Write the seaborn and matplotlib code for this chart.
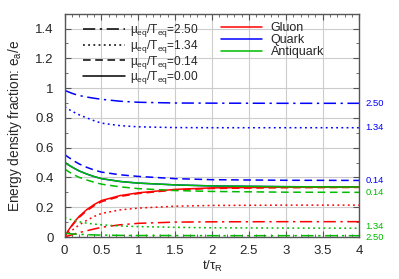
import matplotlib
matplotlib.use("Agg")
import matplotlib.pyplot as plt
from matplotlib.lines import Line2D
from matplotlib.ticker import MultipleLocator
import seaborn as sns
import pandas as pd

# time grid (t / tau_R)
t = [0, 0.05, 0.1, 0.15, 0.2, 0.3, 0.4, 0.5, 0.75, 1, 1.5, 2, 3, 4]

# quark fractions per mu_eq/T_eq
quark_250 = [0.985, 0.975, 0.965, 0.957, 0.950, 0.940, 0.932, 0.925, 0.912, 0.905, 0.900, 0.899, 0.898, 0.898]
quark_134 = [0.874, 0.859, 0.845, 0.832, 0.820, 0.800, 0.781, 0.765, 0.748, 0.740, 0.735, 0.734, 0.734, 0.734]
quark_014 = [0.554, 0.536, 0.520, 0.504, 0.490, 0.468, 0.450, 0.436, 0.418, 0.407, 0.392, 0.385, 0.381, 0.380]
quark_000 = [0.502, 0.485, 0.470, 0.456, 0.443, 0.423, 0.406, 0.392, 0.373, 0.362, 0.350, 0.343, 0.338, 0.336]

# antiquark fractions
anti_250 = [0.025, 0.023, 0.021, 0.019, 0.018, 0.016, 0.014, 0.013, 0.011, 0.010, 0.010, 0.009, 0.009, 0.009]
anti_134 = [0.130, 0.122, 0.115, 0.108, 0.102, 0.093, 0.087, 0.082, 0.074, 0.070, 0.065, 0.062, 0.060, 0.059]
anti_014 = [0.457, 0.440, 0.425, 0.412, 0.400, 0.383, 0.368, 0.355, 0.337, 0.325, 0.312, 0.306, 0.301, 0.300]
anti_000 = [0.502, 0.485, 0.470, 0.456, 0.443, 0.423, 0.406, 0.392, 0.373, 0.362, 0.350, 0.343, 0.338, 0.336]

# gluon fractions
gluon_250 = [0.0, 0.008, 0.015, 0.023, 0.030, 0.042, 0.054, 0.065, 0.082, 0.092, 0.100, 0.102, 0.103, 0.103]
gluon_134 = [0.0, 0.024, 0.045, 0.064, 0.082, 0.112, 0.138, 0.158, 0.182, 0.194, 0.207, 0.212, 0.214, 0.214]
gluon_014 = [0.0, 0.041, 0.076, 0.106, 0.133, 0.176, 0.210, 0.237, 0.272, 0.292, 0.316, 0.326, 0.331, 0.333]
gluon_000 = [0.0, 0.044, 0.080, 0.112, 0.140, 0.184, 0.218, 0.245, 0.278, 0.297, 0.320, 0.330, 0.335, 0.336]

mu_labels = ["2.50", "1.34", "0.14", "0.00"]

# right-hand labels: (y position, text, species)
end_labels = [
    (0.898, "2.50", "quark"), (0.734, "1.34", "quark"), (0.380, "0.14", "quark"),
    (0.297, "0.14", "anti"), (0.068, "1.34", "anti"), (-0.003, "2.50", "anti"),
]

sns.set_style("ticks")
plt.rcParams["font.family"] = ["Liberation Sans", "DejaVu Sans"]
plt.rcParams["mathtext.fontset"] = "custom"
plt.rcParams["mathtext.rm"] = "Liberation Sans"
plt.rcParams["mathtext.it"] = "Liberation Sans"
plt.rcParams["mathtext.default"] = "regular"

styles = {
    "2.50": (0, (8, 3, 1.5, 3)),
    "1.34": (0, (1.2, 2.2)),
    "0.14": (0, (5, 3)),
    "0.00": "-",
}
blue, red, green = "#0000ff", "#ff0000", "#00bb00"
colors = {"quark": blue, "gluon": red, "anti": green}

fig = plt.figure(figsize=(3.99, 2.79), dpi=100)
ax = fig.add_axes([0.162, 0.1505, 0.739, 0.8005])

series = [
    (quark_000, blue, "0.00"), (quark_014, blue, "0.14"),
    (quark_134, blue, "1.34"), (quark_250, blue, "2.50"),
    (gluon_014, red, "0.14"), (gluon_000, red, "0.00"),
    (gluon_134, red, "1.34"), (gluon_250, red, "2.50"),
    (anti_000, green, "0.00"), (anti_014, green, "0.14"),
    (anti_134, green, "1.34"), (anti_250, green, "2.50"),
]
for vals, col, mu in series:
    df = pd.DataFrame({"t": t, "e": vals})
    sns.lineplot(data=df, x="t", y="e", ax=ax, color=col, lw=1.1,
                 linestyle=styles[mu], legend=False)

ax.set_xlim(0, 4)
ax.set_ylim(0, 1.5)
ax.set_xticks([0, 0.5, 1, 1.5, 2, 2.5, 3, 3.5, 4])
ax.set_xticklabels(["0", "0.5", "1", "1.5", "2", "2.5", "3", "3.5", "4"])
ax.set_yticks([0, 0.2, 0.4, 0.6, 0.8, 1, 1.2, 1.4])
ax.set_yticklabels(["0", "0.2", "0.4", "0.6", "0.8", "1", "1.2", "1.4"])
ax.xaxis.set_minor_locator(MultipleLocator(0.1))
ax.yaxis.set_minor_locator(MultipleLocator(0.1))
ax.tick_params(which="both", direction="in", top=True, right=True,
               labelsize=9.5, color="#555555")
ax.tick_params(axis="x", pad=6)
ax.tick_params(axis="y", pad=8)
ax.tick_params(which="major", length=4)
ax.tick_params(which="minor", length=2)
ax.grid(True, which="major", color="#cccccc", lw=0.8)
for s in ax.spines.values():
    s.set_color("#555555")
    s.set_linewidth(1)

ax.set_xlabel(r"t/$\tau_R$", fontsize=9.5, labelpad=1)
ax.set_ylabel(r"Energy density fraction: e$_a$/e", fontsize=9.8, labelpad=8)

for yv, txt, sp in end_labels:
    ax.text(4.08, yv, txt, color=colors[sp], fontsize=6.8, va="center", ha="left",
            clip_on=False)

mu_handles = [Line2D([], [], color="black", lw=1.1, linestyle=styles[m]) for m in mu_labels]
mu_texts = [r"$\mu_{eq}/T_{eq}$=" + m for m in mu_labels]
leg1 = ax.legend(mu_handles, mu_texts, loc="upper left", bbox_to_anchor=(0.035, 1.0),
                 frameon=False, fontsize=8.6, handlelength=3.5, handletextpad=0.4,
                 labelspacing=-0.1, borderaxespad=0.3)
ax.add_artist(leg1)

sp_handles = [Line2D([], [], color=c, lw=1.1) for c in (red, blue, green)]
ax.legend(sp_handles, ["Gluon", "Quark", "Antiquark"], loc="upper left",
          bbox_to_anchor=(0.5, 1.0), frameon=False, fontsize=9,
          handlelength=3.3, handletextpad=0.7, labelspacing=0.0, borderaxespad=0.3)

fig.savefig("out.png", dpi=100)
